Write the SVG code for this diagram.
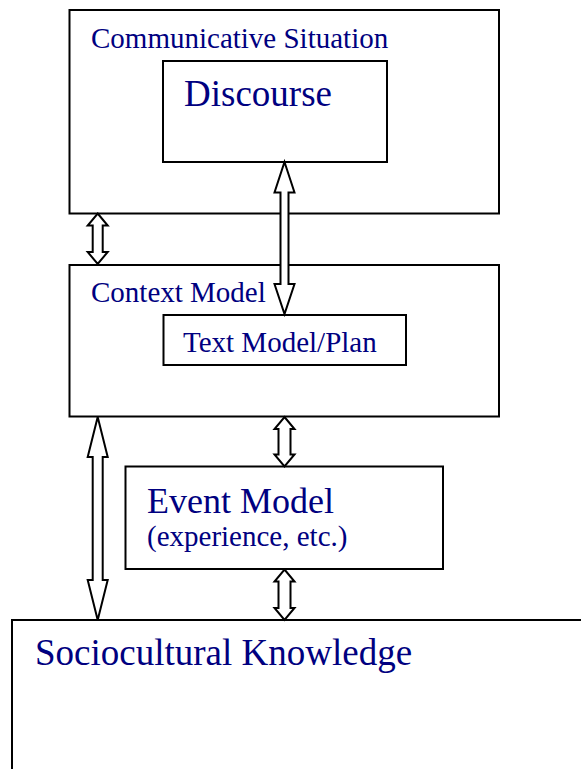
<svg xmlns="http://www.w3.org/2000/svg" width="581" height="769" viewBox="0 0 581 769">
  <style>
    .box { fill: #ffffff; stroke: #000000; stroke-width: 2; }
    .arrow { fill: #ffffff; stroke: #000000; stroke-width: 2; stroke-linejoin: miter; }
    .label { font-family: "Liberation Serif", "Times New Roman", serif; fill: #000080; }
    .small { font-size: 29px; }
    .large { font-size: 37px; }
  </style>
  <rect x="0" y="0" width="581" height="769" fill="#ffffff"/>

  <g id="communicative-situation">
    <rect class="box" x="69.5" y="10" width="429.5" height="203.5"/>
    <text class="label small" x="91" y="48">Communicative Situation</text>
  </g>

  <g id="discourse">
    <rect class="box" x="163" y="61" width="224" height="101"/>
    <text class="label large" x="184" y="106">Discourse</text>
  </g>

  <g id="context-model">
    <rect class="box" x="69.5" y="265" width="429.5" height="151.5"/>
    <text class="label small" x="91" y="302">Context Model</text>
  </g>

  <g id="text-model">
    <rect class="box" x="163.5" y="315" width="242.5" height="50"/>
    <text class="label small" x="183" y="352">Text Model/Plan</text>
  </g>

  <g id="event-model">
    <rect class="box" x="125.5" y="466.5" width="317.5" height="102.5"/>
    <text class="label" x="147" y="512.5" font-size="36">Event Model</text>
    <text class="label small" x="147" y="546">(experience, etc.)</text>
  </g>

  <g id="sociocultural-knowledge">
    <rect class="box" x="12" y="620" width="600" height="200"/>
    <text class="label large" x="35" y="665">Sociocultural Knowledge</text>
  </g>

  <!-- double-headed hollow block arrows -->
  <g id="connectors">
    <!-- situation <-> context model -->
    <polygon class="arrow" points="97.7,213.5 107.7,225.5 102.7,225.5 102.7,252 107.7,252 97.7,264 87.7,252 92.7,252 92.7,225.5 87.7,225.5"/>
    <!-- discourse <-> text model -->
    <polygon class="arrow" points="284.5,162 294.5,192.5 288.5,192.5 288.5,284 294.5,284 284.5,314 274.5,284 280.5,284 280.5,192.5 274.5,192.5"/>
    <!-- context model <-> sociocultural knowledge -->
    <polygon class="arrow" points="97.7,417 107.7,457 102.7,457 102.7,580 107.7,580 97.7,620 87.7,580 92.7,580 92.7,457 87.7,457"/>
    <!-- context model <-> event model -->
    <polygon class="arrow" points="284.5,417 294.5,429 290.5,429 290.5,454.5 294.5,454.5 284.5,466.5 274.5,454.5 278.5,454.5 278.5,429 274.5,429"/>
    <!-- event model <-> sociocultural knowledge -->
    <polygon class="arrow" points="284.5,569.5 294.5,581.5 290.5,581.5 290.5,608 294.5,608 284.5,620 274.5,608 278.5,608 278.5,581.5 274.5,581.5"/>
  </g>
</svg>
